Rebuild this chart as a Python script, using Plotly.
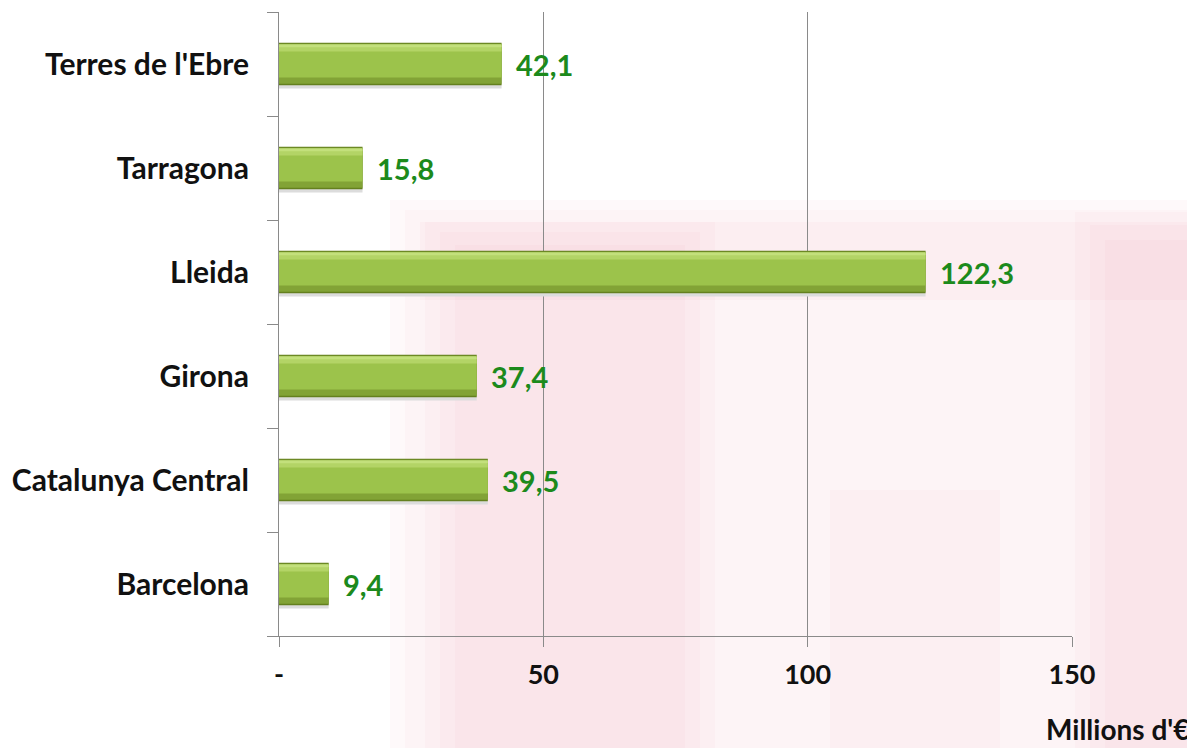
import plotly.graph_objects as go

categories = ["Barcelona", "Catalunya Central", "Girona", "Lleida", "Tarragona", "Terres de l'Ebre"]
values = [9.4, 39.5, 37.4, 122.3, 15.8, 42.1]
tick_vals = [0, 50, 100, 150]
tick_text = ["-", "50", "100", "150"]
axis_title = "Millions d'€"

FONT = "Lato"
labels = [f"{v:.1f}".replace(".", ",") for v in values]

fig = go.Figure()
# layered bars to imitate the bevelled gradient fill (shadow, outline, bottom bevel, face, top bevel)
layers = [
    (-0.235, 0.05, "#dcdcdc"),
    (-0.205, 0.41, "#64801f"),
    (-0.19, 0.385, "#82a336"),
    (-0.13, 0.285, "#9cc34b"),
    (0.12, 0.06, "#b3d466"),
    (0.16, 0.03, "#c3e07c"),
]
for off, w, col in layers:
    fig.add_trace(go.Bar(y=categories, x=values, orientation="h", width=w, offset=off,
                         marker=dict(color=col, line=dict(width=0)),
                         hoverinfo="skip", showlegend=False))

for c, v, t in zip(categories, values, labels):
    fig.add_annotation(x=v, y=c, text=f"<b>{t}</b>", showarrow=False, xanchor="left",
                       xshift=12, font=dict(family=FONT, size=29, color="#1c8a1c"))

fig.add_annotation(x=1.149, y=-0.178, xref="paper", yref="paper", text=f"<b>{axis_title}</b>",
                   showarrow=False, xanchor="right", yanchor="bottom", borderpad=0,
                   font=dict(family=FONT, size=28, color="#111111"))

# faint, soft watermark-like background tint (stacked translucent rectangles)
def px_to_paper(x0, x1, y0, y1):
    return (x0 - 279) / 793, (x1 - 279) / 793, (636 - y1) / 624, (636 - y0) / 624

regions = [
    (390, 1200, 200, 760, 0.04),
    (405, 1200, 210, 760, 0.03),
    (420, 1200, 222, 300, 0.04),
    (425, 715, 222, 760, 0.03),
    (440, 700, 232, 760, 0.03),
    (455, 685, 245, 760, 0.03),
    (1075, 1200, 212, 760, 0.03),
    (1090, 1200, 225, 760, 0.03),
    (1105, 1200, 240, 760, 0.03),
    (830, 1000, 490, 760, 0.03),
]
for x0, x1, y0, y1, a in regions:
    px0, px1, py0, py1 = px_to_paper(x0, x1, y0, y1)
    fig.add_shape(type="rect", xref="paper", yref="paper", x0=px0, x1=px1, y0=py0, y1=py1,
                  fillcolor=f"rgba(225,110,125,{a})", line=dict(width=0), layer="below")

# page body has an 8px margin, so the figure is 8px smaller and margins shifted
fig.update_layout(
    barmode="overlay",
    width=1187, height=740,
    margin=dict(l=271, r=123, t=4, b=112, autoexpand=False),
    paper_bgcolor="white", plot_bgcolor="rgba(0,0,0,0)",
    font=dict(family=FONT, color="#111111"),
)
fig.update_xaxes(range=[0, 150], tickvals=tick_vals, ticktext=[f"<b>{t}</b>" for t in tick_text],
                 showgrid=True, gridcolor="#8a8a8a", gridwidth=1,
                 showline=True, linecolor="#8a8a8a", linewidth=1,
                 ticks="outside", ticklen=10, tickcolor="#8a8a8a", automargin=False,
                 ticklabelstandoff=5, tickfont=dict(family=FONT, size=27, color="#111111"),
                 zeroline=False)
fig.update_yaxes(categoryorder="array", categoryarray=categories,
                 ticktext=[f"<b>{c}</b>" for c in categories], tickvals=categories,
                 showline=True, linecolor="#8a8a8a", linewidth=1, automargin=False,
                 ticks="outside", ticklen=11, tickcolor="#8a8a8a", tickson="boundaries",
                 ticklabelstandoff=23, tickfont=dict(family=FONT, size=30, color="#111111"),
                 showgrid=False)

fig.write_html("out.html")
